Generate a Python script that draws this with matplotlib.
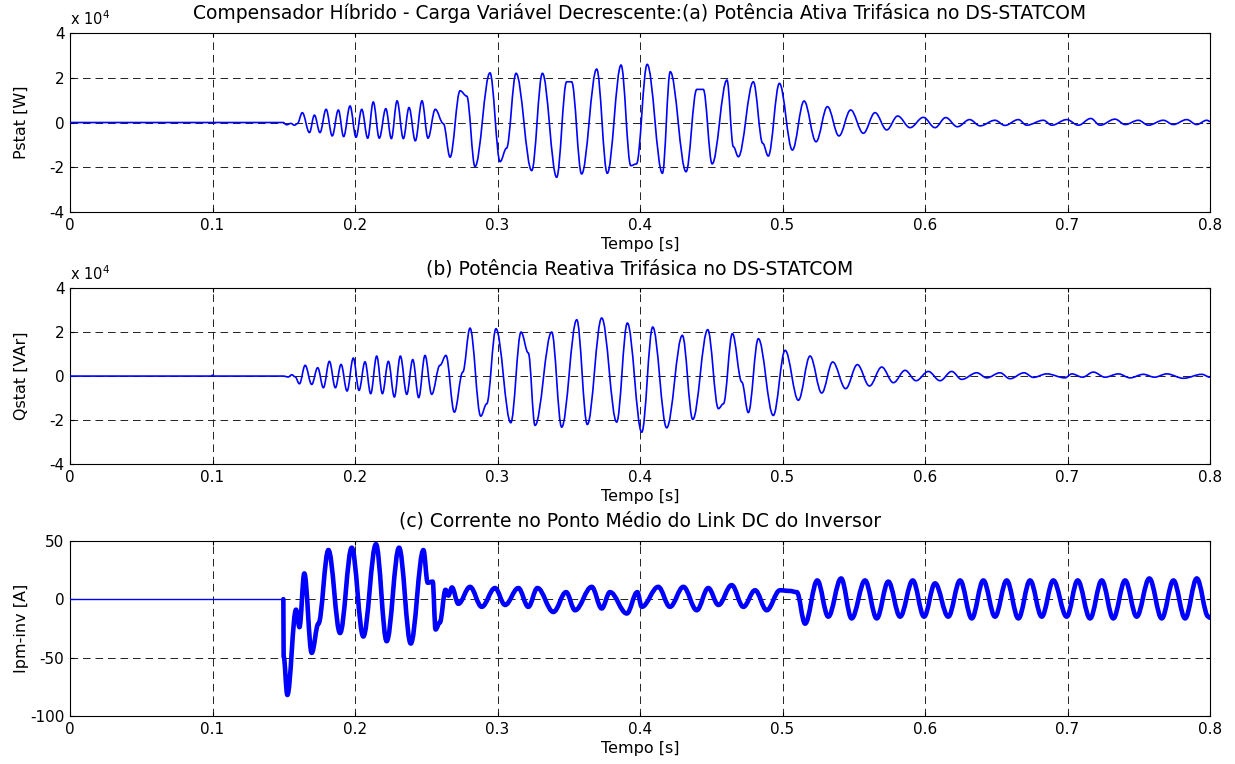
import numpy as np
import matplotlib
matplotlib.use("Agg")
import matplotlib.pyplot as plt
from matplotlib.path import Path
from matplotlib.patches import PathPatch

plt.rcParams['font.family'] = ['DejaVu Sans']
plt.rcParams['font.size'] = 11
plt.rcParams['axes.unicode_minus'] = False
plt.rcParams['lines.scale_dashes'] = False

# ---- (a) three-phase active power of the DS-STATCOM, in units of 1e4 W (turning points) ----
p_time = [
    0.0, 0.1495, 0.152, 0.155, 0.1575, 0.1595,
    0.163, 0.168, 0.1715, 0.1754, 0.1797, 0.184, 0.1883, 0.192, 0.1965, 0.2007, 0.2047, 0.2089,
    0.2128, 0.217, 0.2216, 0.2255, 0.2295, 0.2339, 0.2379, 0.2423, 0.247, 0.2512, 0.2563, 0.262,
    0.2667, 0.2737, 0.2784, 0.2842, 0.2947, 0.3018, 0.3063, 0.313, 0.324, 0.3315, 0.3415, 0.3485,
    0.352, 0.359, 0.3696, 0.377, 0.3867, 0.3935, 0.3975, 0.405, 0.4157, 0.4212, 0.4323, 0.4398,
    0.4444, 0.4506, 0.461, 0.4655, 0.469, 0.4795, 0.4861, 0.49, 0.4978, 0.5069, 0.5151, 0.5235,
    0.5315, 0.5396, 0.5478, 0.5567, 0.5649, 0.5731, 0.5808, 0.5895, 0.5988, 0.607, 0.6145, 0.6227,
    0.6313, 0.6386, 0.6491, 0.656, 0.6655, 0.6713, 0.683, 0.689, 0.6994, 0.7076, 0.7163, 0.7228,
    0.7333, 0.7404, 0.7497, 0.7567, 0.7672, 0.7742, 0.7836, 0.7906, 0.7977, 0.8,
]
p_stat = [
    0.0, 0.0, -0.10, -0.04, -0.12, -0.05,
    0.44, -0.45, 0.33, -0.45, 0.59, -0.60, 0.56, -0.63, 0.74, -0.66, 0.59, -0.70,
    0.92, -0.70, 0.62, -0.72, 0.97, -0.72, 0.67, -0.82, 0.97, -0.70, 0.59, -0.05,
    -1.55, 1.42, 1.18, -1.97, 2.22, -1.75, -1.15, 2.20, -2.15, 2.20, -2.45, 1.82,
    1.82, -2.30, 2.39, -2.27, 2.57, -1.93, -1.85, 2.60, -2.27, 2.27, -2.20, 1.48,
    1.48, -1.85, 1.90, -1.08, -1.53, 1.82, -0.93, -1.50, 1.75, -1.23, 0.96, -0.86,
    0.71, -0.60, 0.56, -0.48, 0.44, -0.33, 0.29, -0.23, 0.23, -0.23, 0.22, -0.19,
    0.13, -0.15, 0.10, -0.13, 0.13, -0.12, 0.10, -0.12, 0.13, -0.12, 0.18, -0.12,
    0.15, -0.09, 0.10, -0.12, 0.10, -0.09, 0.13, -0.09, 0.10, 0.05,
]

# ---- (b) three-phase reactive power of the DS-STATCOM, in units of 1e4 VAr ----
q_time = [
    0.0, 0.099, 0.1, 0.101, 0.1495, 0.1532, 0.1556, 0.1579,
    0.161, 0.165, 0.1696, 0.1738, 0.1778, 0.182, 0.1862, 0.1902, 0.1944, 0.1988, 0.2028, 0.207,
    0.211, 0.2152, 0.2192, 0.2234, 0.2276, 0.2318, 0.2363, 0.2405, 0.2447, 0.2491, 0.2538, 0.2596,
    0.2638, 0.2697, 0.2756, 0.2807, 0.2882, 0.2924, 0.2989, 0.3093, 0.3165, 0.3216, 0.3263, 0.338,
    0.345, 0.3556, 0.363, 0.3731, 0.3836, 0.3911, 0.4012, 0.4089, 0.4187, 0.4297, 0.437, 0.4475,
    0.455, 0.4585, 0.4648, 0.4714, 0.476, 0.483, 0.4935, 0.5018, 0.5111, 0.5193, 0.5275, 0.5352,
    0.5443, 0.5525, 0.561, 0.5696, 0.5778, 0.586, 0.5937, 0.6023, 0.6105, 0.6187, 0.6257, 0.6363,
    0.6433, 0.6526, 0.6596, 0.6695, 0.676, 0.6854, 0.6982, 0.703, 0.7105, 0.7181, 0.7263, 0.7357,
    0.7439, 0.7532, 0.761, 0.7696, 0.7813, 0.7942, 0.8,
]
q_stat = [
    0.0, 0.0, 0.04, 0.0, 0.0, -0.04, 0.06, -0.03,
    -0.35, 0.49, -0.38, 0.38, -0.53, 0.67, -0.53, 0.53, -0.68, 0.82, -0.65, 0.65,
    -0.80, 0.91, -0.80, 0.67, -0.95, 0.91, -0.83, 0.75, -0.98, 0.94, -0.83, 0.49,
    0.94, -1.64, 0.18, 2.18, -1.82, -1.26, 2.15, -2.12, 2.00, 1.05, -2.24, 2.00,
    -2.32, 2.56, -2.20, 2.64, -2.09, 2.41, -2.55, 2.23, -2.35, 1.85, -1.97, 2.11,
    -1.48, -1.26, 1.93, -0.27, -1.66, 1.70, -1.79, 1.17, -1.10, 0.91, -0.77, 0.64,
    -0.57, 0.52, -0.45, 0.41, -0.30, 0.26, -0.21, 0.21, -0.21, 0.21, -0.15, 0.15,
    -0.08, 0.15, -0.12, 0.15, -0.06, 0.10, -0.08, 0.10, -0.05, 0.18, -0.05, 0.10,
    -0.08, 0.08, -0.05, 0.10, -0.10, 0.08, -0.05,
]

# ---- (c) inverter DC-link midpoint current [A] ----
i_time = [
    0.0, 0.1497, 0.1499, 0.1525, 0.1586, 0.161, 0.1644, 0.1696, 0.1743, 0.1813, 0.1895, 0.1977,
    0.2058, 0.2147, 0.2222, 0.2309, 0.2391, 0.248, 0.251, 0.2545, 0.2565, 0.2595, 0.2635, 0.2655,
    0.268, 0.2725, 0.2807, 0.2889, 0.2982, 0.3053, 0.3146, 0.3216, 0.328, 0.3392, 0.3481, 0.3544,
    0.3661, 0.3731, 0.3789, 0.3907, 0.3981, 0.4012, 0.4128, 0.421, 0.4304, 0.4398, 0.4479, 0.455,
    0.4643, 0.4725, 0.4807, 0.4889, 0.4982, 0.505, 0.51, 0.5158, 0.5244, 0.5321, 0.5411, 0.5485,
    0.5579, 0.5661, 0.5742, 0.5825, 0.5914, 0.5993, 0.607, 0.6163, 0.6246, 0.6328, 0.6409, 0.6491,
    0.6573, 0.6655, 0.6737, 0.6819, 0.69, 0.6994, 0.7071, 0.7158, 0.724, 0.7321, 0.7404, 0.7485,
    0.7574, 0.7661, 0.7743, 0.7825, 0.7907, 0.7988, 0.8,
]
i_pm_inv = [
    0.0, 0.0, -49.0, -82.0, -9.0, -24.0, 22.0, -46.0, -21.0, 42.0, -29.0, 44.0,
    -32.0, 47.0, -36.0, 44.0, -38.0, 42.0, 14.0, 15.0, -26.0, -20.0, 8.0, 3.0,
    10.0, -4.0, 10.5, -6.6, 9.5, -5.0, 9.5, -6.6, 9.5, -11.0, 6.0, -9.5,
    10.5, -8.0, 6.0, -12.3, 6.0, -6.6, 10.5, -6.6, 10.5, -9.5, 9.5, -5.0,
    12.0, -6.6, 7.6, -9.5, 7.6, 7.0, 6.0, -21.0, 16.0, -15.0, 17.7, -16.5,
    16.0, -16.5, 15.0, -15.0, 16.0, -15.0, 13.5, -15.0, 16.0, -16.5, 16.0, -15.0,
    16.0, -16.5, 16.0, -15.0, 16.0, -15.0, 16.0, -16.5, 16.0, -16.5, 16.0, -15.0,
    17.7, -16.5, 16.0, -16.5, 17.7, -15.0, -16.0,
]

x_ticks = [0.0, 0.1, 0.2, 0.3, 0.4, 0.5, 0.6, 0.7, 0.8]
x_tick_labels = ['0', '0.1', '0.2', '0.3', '0.4', '0.5', '0.6', '0.7', '0.8']
pq_ticks = [-4, -2, 0, 2, 4]
i_ticks = [-100, -50, 0, 50]

titles = [
    'Compensador Híbrido - Carga Variável Decrescente:(a) Potência Ativa Trifásica no DS-STATCOM',
    '(b) Potência Reativa Trifásica no DS-STATCOM',
    '(c) Corrente no Ponto Médio do Link DC do Inversor',
]
y_labels = ['Pstat [W]', 'Qstat [VAr]', 'Ipm-inv [A]']

LINE_BLUE = '#0000ff'


def wave_path(t, v):
    """Smooth path through the turning points: cubic Bezier segments with
    flat tangents at every sample, so each swing is drawn as a rounded arc."""
    t = np.asarray(t, dtype=float)
    v = np.asarray(v, dtype=float)
    verts = [(t[0], v[0])]
    codes = [Path.MOVETO]
    k = 0.3642
    for i in range(1, len(t)):
        dt = t[i] - t[i - 1]
        verts += [(t[i - 1] + k * dt, v[i - 1]), (t[i] - k * dt, v[i]), (t[i], v[i])]
        codes += [Path.CURVE4] * 3
    return Path(verts, codes)


def draw_wave(ax, t, v, lw):
    patch = PathPatch(wave_path(t, v), facecolor='none', edgecolor=LINE_BLUE,
                      linewidth=lw, joinstyle='round', capstyle='round', zorder=3)
    ax.add_patch(patch)


fig = plt.figure(figsize=(12.35, 7.64), dpi=100)
fig.patch.set_facecolor('white')
positions = [
    [0.0567, 0.7225, 0.9231, 0.2343],
    [0.0567, 0.3925, 0.9231, 0.2305],
    [0.0567, 0.0628, 0.9231, 0.2295],
]
axes = [fig.add_axes(p) for p in positions]


def style_axis(ax, yticks, title, ylabel):
    ax.set_xlim(0, 0.8)
    ax.set_ylim(yticks[0], yticks[-1])
    ax.set_xticks(x_ticks)
    ax.set_xticklabels(x_tick_labels)
    ax.set_yticks(yticks)
    ax.set_yticklabels([str(v) for v in yticks])
    ax.tick_params(direction='in', top=True, right=True, length=3, width=0.8,
                   pad=4, labelsize=11)
    ax.tick_params(axis='x', pad=4)
    ax.grid(True, color='#222222', linestyle=(0, (5.5, 3.5)), linewidth=0.7)
    ax.set_axisbelow(True)
    for s in ax.spines.values():
        s.set_linewidth(0.8)
        s.set_color('black')
    ax.set_title(title, fontsize=13.5, pad=10)
    ax.set_xlabel('Tempo [s]', fontsize=11.5, labelpad=3)
    ax.set_ylabel(ylabel, fontsize=11.5)
    ax.yaxis.set_label_coords(-0.036, 0.5)


ax1, ax2, ax3 = axes
draw_wave(ax1, p_time, p_stat, 1.2)
draw_wave(ax2, q_time, q_stat, 1.2)

i_t = np.array(i_time)
i_v = np.array(i_pm_inv)
idle = i_t <= 0.1497
active = i_t >= 0.1497
ax3.plot(i_t[idle], i_v[idle], color=LINE_BLUE, linewidth=1.0, zorder=3)
draw_wave(ax3, i_t[active], i_v[active], 3.3)

style_axis(ax1, pq_ticks, titles[0], y_labels[0])
style_axis(ax2, pq_ticks, titles[1], y_labels[1])
style_axis(ax3, i_ticks, titles[2], y_labels[2])

for ax in (ax1, ax2):
    ax.text(0.0, 1.045, 'x 10$^4$', transform=ax.transAxes, ha='left',
            va='baseline', fontsize=10.5)

fig.savefig('out.png', dpi=100, facecolor='white')
